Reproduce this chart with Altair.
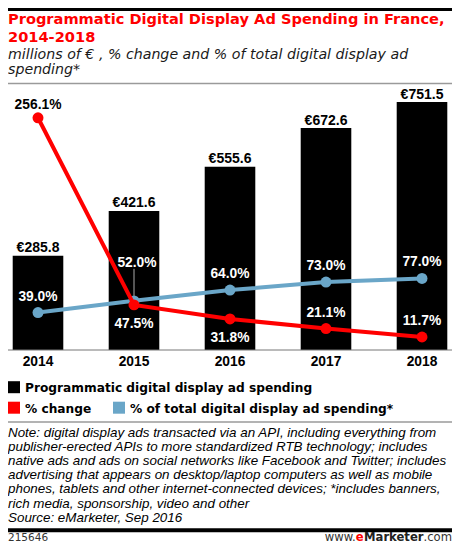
import altair as alt
import pandas as pd

# ---- data ----
years = ["2014", "2015", "2016", "2017", "2018"]
spending = [285.8, 421.6, 555.6, 672.6, 751.5]          # millions of euros
pct_change = [256.1, 47.5, 31.8, 21.1, 11.7]           # % change
pct_total = [39.0, 52.0, 64.0, 73.0, 77.0]             # % of total digital display

title_lines = ["Programmatic Digital Display Ad Spending in France,", "2014-2018"]
subtitle_lines = ["millions of € , % change and % of total digital display ad", "spending*"]
legend_labels = ["Programmatic digital display ad spending", "% change",
                 "% of total digital display ad spending*"]
note_lines = [
    "Note: digital display ads transacted via an API, including everything from",
    "publisher-erected APIs to more standardized RTB technology; includes",
    "native ads and ads on social networks like Facebook and Twitter; includes",
    "advertising that appears on desktop/laptop computers as well as mobile",
    "phones, tablets and other internet-connected devices; *includes banners,",
    "rich media, sponsorship, video and other",
    "Source: eMarketer, Sep 2016",
]
chart_id = "215646"

df = pd.DataFrame({"year": years, "spending": spending,
                   "change": pct_change, "share": pct_total})

W, H = 444, 537
RED = "#ff0000"
BLUE = "#6aa6c8"
NUM_FONT = "Liberation Sans"
HEAD_FONT = "DejaVu Sans"

x = alt.X("year:N", scale=alt.Scale(type="band", paddingInner=0.473, paddingOuter=0.049), axis=None)
y_sp = alt.Y("spending:Q", scale=alt.Scale(domain=[-590.9, 1036.4], nice=False, zero=False), axis=None)
pct_scale = alt.Scale(domain=[-220.2, 378.5], nice=False, zero=False)
y_share = alt.Y("share:Q", scale=pct_scale, axis=None)
y_change = alt.Y("change:Q", scale=pct_scale, axis=None)

base = alt.Chart(df)

bars = base.mark_bar(color="black").encode(x=x, y=y_sp, y2=alt.datum(0))
bar_labels = base.transform_calculate(
    lbl="'€' + format(datum.spending, '.1f')"
).mark_text(font=NUM_FONT, fontWeight="bold", fontSize=14, dy=-3.5,
            baseline="alphabetic", color="black").encode(x=x, y=y_sp, text="lbl:N")

blue_line = base.mark_line(color=BLUE, strokeWidth=4).encode(x=x, y=y_share)
blue_pts = base.mark_circle(color=BLUE, size=120, opacity=1).encode(x=x, y=y_share)
red_line = base.mark_line(color=RED, strokeWidth=4).encode(x=x, y=y_change)
red_pts = base.mark_circle(color=RED, size=120, opacity=1).encode(x=x, y=y_change)

conn = base.transform_filter("datum.year == '2015'").mark_rule(
    color="#aaaaaa", strokeWidth=1, yOffset=-5, y2Offset=-32
).encode(x=x, y=y_share, y2="share:Q")


def pct_text(field, yenc, filt, dy, color, dx=0):
    return base.transform_filter(filt).transform_calculate(
        lbl=f"format(datum.{field}, '.1f') + '%'"
    ).mark_text(font=NUM_FONT, fontWeight="bold", fontSize=13.8, dy=dy, dx=dx,
                baseline="alphabetic", color=color).encode(x=x, y=yenc, text="lbl:N")


lab_share = pct_text("share", y_share, "datum.year != '2015'", -12, "white")
lab_share15 = pct_text("share", y_share, "datum.year == '2015'", -33.5, "white", dx=3)
lab_ch14 = pct_text("change", y_change, "datum.year == '2014'", -9, "black")
lab_ch_above = pct_text("change", y_change, "datum.year == '2017' || datum.year == '2018'", -12, "white")
lab_ch_below = pct_text("change", y_change, "datum.year == '2015' || datum.year == '2016'", 23.5, "white")

year_labels = base.mark_text(font=NUM_FONT, fontWeight="bold", fontSize=13.8,
                             baseline="alphabetic", color="black").encode(
    x=x, y=alt.value(358.3), text="year:N")

one = alt.Data(values=[{"k": 0}])


def txt(lines, xpos, ypos, **kw):
    return alt.Chart(one).mark_text(text=lines, baseline="alphabetic", **kw).encode(
        x=alt.value(xpos), y=alt.value(ypos))


def hrule(ypos, width, color):
    return alt.Chart(one).mark_rule(color=color, strokeWidth=width).encode(
        x=alt.value(0), x2=alt.value(W), y=alt.value(ypos))


def box(x0, yc, size, color):
    return alt.Chart(one).mark_rect(color=color).encode(
        x=alt.value(x0), x2=alt.value(x0 + size),
        y=alt.value(yc - size / 2), y2=alt.value(yc + size / 2))


top_rule = hrule(1.5, 3, "black")
title = txt(title_lines, 0, 16.0, align="left", font=HEAD_FONT, fontWeight="bold",
            fontSize=14.6, lineHeight=17.5, color=RED)
subtitle = txt(subtitle_lines, 0, 51.2, align="left", font=HEAD_FONT, fontStyle="italic",
               fontSize=14.2, lineHeight=14.6, color="#1a1a1a")
rule_gray = hrule(75.5, 1.5, "#9a9a9a")
axis_line = hrule(342, 1, "#777777")

leg1_box = box(0, 379.2, 12, "black")
leg1_txt = txt(legend_labels[0], 17, 383.7, align="left", font=HEAD_FONT, fontWeight="bold",
               fontSize=12.2, color="black")
leg2_box = box(0, 399.7, 12, RED)
leg2_txt = txt(legend_labels[1], 17, 404.5, align="left", font=HEAD_FONT, fontWeight="bold",
               fontSize=12.2, color="black")
leg3_box = box(105, 399.7, 12, BLUE)
leg3_txt = txt(legend_labels[2], 122, 404.5, align="left", font=HEAD_FONT, fontWeight="bold",
               fontSize=12.2, color="black")

note_rule = hrule(414, 1.5, "#9a9a9a")
notes = txt(note_lines, 0, 429.0, align="left", font="Liberation Sans", fontStyle="italic",
            fontSize=13.4, lineHeight=14.12, color="black")
bottom_rule = hrule(522.3, 4, "black")
cid = txt(chart_id, 0, 532.7, align="left", font=HEAD_FONT, fontSize=10.5, color="#333333")
em1 = txt(".com", W, 532.7, align="right", font=HEAD_FONT, fontSize=11.6, color="#333333")
em2 = txt("Marketer", W - 28.5, 532.7, align="right", font=HEAD_FONT, fontWeight="bold",
          fontSize=11.6, color="#222222")
em3 = txt("e", W - 28.5 - 59.8, 532.7, align="right", font=HEAD_FONT, fontWeight="bold",
          fontSize=11.6, color=RED)
em4 = txt("www.", W - 28.5 - 59.8 - 7.9, 532.7, align="right", font=HEAD_FONT,
          fontSize=11.6, color="#333333")

chart = alt.layer(
    bars, bar_labels, axis_line, blue_line, blue_pts, conn, red_line, red_pts,
    lab_share, lab_share15, lab_ch14, lab_ch_above, lab_ch_below, year_labels,
    top_rule, title, subtitle, rule_gray,
    leg1_box, leg1_txt, leg2_box, leg2_txt, leg3_box, leg3_txt,
    note_rule, notes, bottom_rule, cid, em1, em2, em3, em4,
).resolve_scale(y="independent").properties(
    width=W, height=H, padding=0,
    autosize=alt.AutoSizeParams(type="none"),
).configure_view(stroke=None)

chart.save("out.html", embed_options={"renderer": "svg", "actions": False})
